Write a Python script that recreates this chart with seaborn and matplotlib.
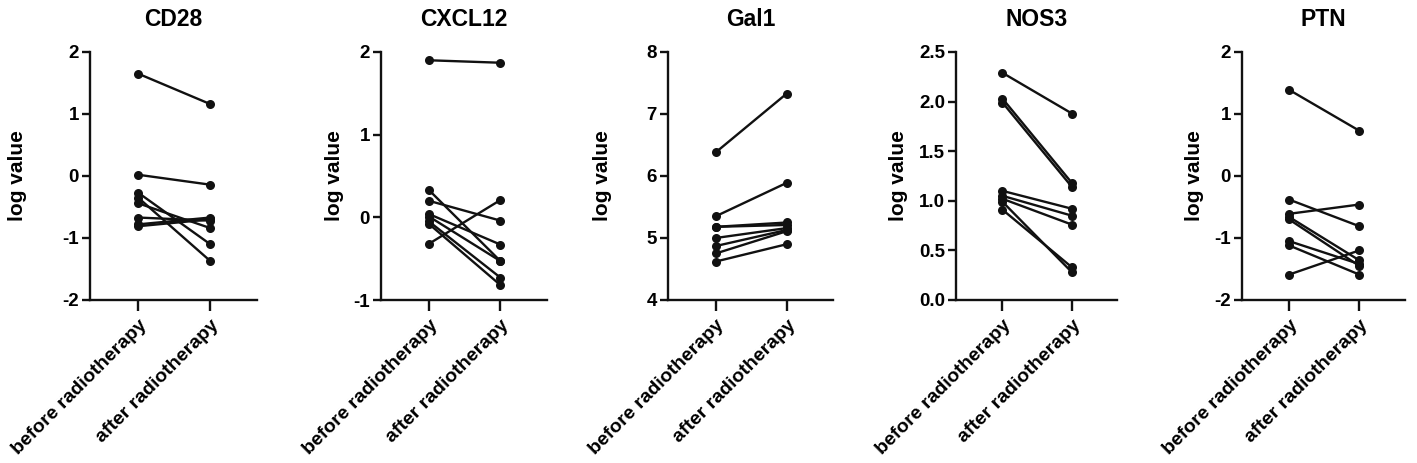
import matplotlib
matplotlib.use("Agg")
import matplotlib.pyplot as plt
import seaborn as sns
import pandas as pd
import numpy as np
from matplotlib.ticker import FormatStrFormatter

sns.set_theme(style="ticks")
plt.rcParams['font.family'] = ['Liberation Sans', 'DejaVu Sans']
plt.rcParams['font.weight'] = 'bold'
plt.rcParams['axes.unicode_minus'] = False
plt.rcParams['text.color'] = 'black'
plt.rcParams['axes.labelcolor'] = 'black'
plt.rcParams['xtick.color'] = 'black'
plt.rcParams['ytick.color'] = 'black'

conditions = ["before radiotherapy", "after radiotherapy"]
genes = ["CD28", "CXCL12", "Gal1", "NOS3", "PTN"]

cd28_before = [1.65, 0.02, -0.27, -0.35, -0.44, -0.67, -0.78, -0.81]
cd28_after = [1.16, -0.14, -1.10, -1.37, -0.84, -0.72, -0.67, -0.70]

cxcl12_before = [1.90, 0.33, 0.20, 0.04, 0.01, -0.05, -0.08, -0.32]
cxcl12_after = [1.87, -0.53, -0.04, -0.33, -0.53, -0.73, -0.82, 0.21]

gal1_before = [6.38, 5.35, 5.18, 5.18, 5.00, 4.87, 4.75, 4.62]
gal1_after = [7.33, 5.89, 5.25, 5.21, 5.16, 5.13, 5.11, 4.90]

nos3_before = [2.29, 2.03, 1.99, 1.10, 1.05, 1.02, 0.99, 0.91]
nos3_after = [1.88, 1.18, 1.14, 0.92, 0.85, 0.76, 0.28, 0.33]

ptn_before = [1.39, -0.38, -0.61, -0.66, -0.70, -1.05, -1.12, -1.59]
ptn_after = [0.73, -0.81, -0.46, -1.36, -1.45, -1.42, -1.59, -1.20]

before_vals = [cd28_before, cxcl12_before, gal1_before, nos3_before, ptn_before]
after_vals = [cd28_after, cxcl12_after, gal1_after, nos3_after, ptn_after]

y_ticks = [
    [-2, -1, 0, 1, 2],
    [-1, 0, 1, 2],
    [4, 5, 6, 7, 8],
    [0.0, 0.5, 1.0, 1.5, 2.0, 2.5],
    [-2, -1, 0, 1, 2],
]

W, H = 1417, 463
fig = plt.figure(figsize=(W / 100, H / 100), dpi=100)

lefts_px = [90, 381, 668, 956, 1242]
rights_px = [257, 547, 833, 1117, 1405]
ylab_off_px = [72, 47, 65, 58, 48]
top_px, bottom_px = 52, 300

for i, gene in enumerate(genes):
    l, r = lefts_px[i], rights_px[i]
    ax = fig.add_axes([l / W, 1 - bottom_px / H, (r - l) / W, (bottom_px - top_px) / H])
    n = len(before_vals[i])
    df = pd.DataFrame({
        "pair": list(range(n)) * 2,
        "pos": [0] * n + [1] * n,
        "value": list(before_vals[i]) + list(after_vals[i]),
    })
    sns.lineplot(data=df, x="pos", y="value", units="pair", estimator=None,
                 color="#111111", marker="o", markersize=6.5, markeredgewidth=0,
                 linewidth=1.7, ax=ax, legend=False)
    ax.set_xlim(-0.67, 1.65)
    ax.set_ylim(y_ticks[i][0], y_ticks[i][-1])
    ax.set_yticks(y_ticks[i])
    if gene == "NOS3":
        ax.yaxis.set_major_formatter(FormatStrFormatter("%.1f"))
    ax.set_xticks([0, 1])
    ax.set_xticklabels(conditions, rotation=45, ha="right", rotation_mode="anchor",
                       fontsize=14, fontweight="bold", color="black")
    for lab in ax.get_yticklabels():
        lab.set_fontsize(13.5)
        lab.set_fontweight("bold")
        lab.set_color("black")
    ax.set_xlabel("")
    ax.set_ylabel("log value", fontsize=15, fontweight="bold", color="black")
    ax.yaxis.label.set_verticalalignment("center")
    ax.yaxis.set_label_coords(-ylab_off_px[i] / (r - l), 0.5)
    ax.set_title(gene, fontsize=16.5, fontweight="bold", pad=19, color="black")
    for s in ["top", "right"]:
        ax.spines[s].set_visible(False)
    for s in ["left", "bottom"]:
        ax.spines[s].set_linewidth(1.7)
        ax.spines[s].set_color("#111111")
    ax.tick_params(axis="y", length=6, width=1.7, color="#111111", pad=2)
    ax.tick_params(axis="x", length=8, width=1.7, color="#111111", pad=4)

fig.savefig("out.png", dpi=100)
